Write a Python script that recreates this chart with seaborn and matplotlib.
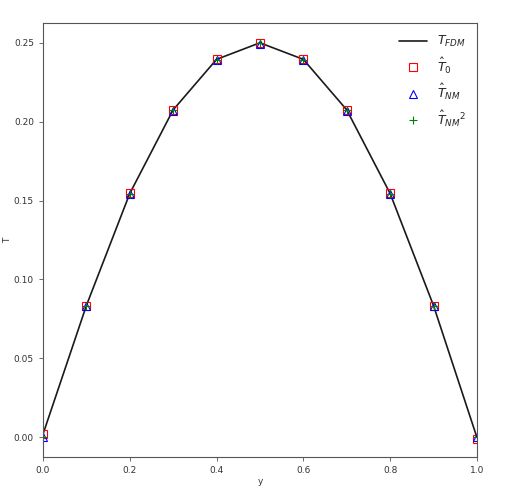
import numpy as np
import pandas as pd
import matplotlib
matplotlib.use("Agg")
import matplotlib.pyplot as plt
import seaborn as sns

y_grid = [0.0, 0.1, 0.2, 0.3, 0.4, 0.5, 0.6, 0.7, 0.8, 0.9, 1.0]
t_fdm = [0.002, 0.0835, 0.1545, 0.2075, 0.2395, 0.2500, 0.2395, 0.2075, 0.1545, 0.0835, 0.0]
t_0 = [0.002, 0.0835, 0.1545, 0.2075, 0.2395, 0.2500, 0.2395, 0.2075, 0.1545, 0.0835, -0.001]
t_nm = [0.0005, 0.0830, 0.1540, 0.2070, 0.2390, 0.2495, 0.2390, 0.2070, 0.1540, 0.0830, 0.0]
t_nm2 = [0.0005, 0.0832, 0.1542, 0.2072, 0.2392, 0.2497, 0.2392, 0.2072, 0.1542, 0.0832, 0.0]

df = pd.DataFrame({'y': y_grid, 'fdm': t_fdm, 't0': t_0, 'nm': t_nm, 'nm2': t_nm2})

sns.set_style("ticks")
plt.rcParams['font.family'] = ['DejaVu Sans']

fig = plt.figure(figsize=(5.15, 4.91), dpi=100)
ax = fig.add_axes([0.0835, 0.0692, 0.8425, 0.8838])

sns.lineplot(data=df, x='y', y='fdm', color='#1a1a1a', linewidth=1.2, ax=ax, label=r'$T_{FDM}$')
ax.plot(df['y'], df['t0'], 's', ms=6, mfc='none', mec='red', mew=0.8, ls='none', label=r'$\hat{T}_0$')
ax.plot(df['y'], df['nm'], '^', ms=6, mfc='none', mec='blue', mew=0.8, ls='none', label=r'$\hat{T}_{NM}$')
ax.plot(df['y'], df['nm2'], '+', ms=6, color='green', mew=0.8, ls='none', label=r'$\hat{T}_{NM}{}^2$')

ax.set_xlim(0, 1)
ax.set_ylim(-0.0125, 0.2625)
ax.set_xticks([0.0, 0.2, 0.4, 0.6, 0.8, 1.0])
ax.set_yticks([0.0, 0.05, 0.10, 0.15, 0.20, 0.25])
ax.tick_params(labelsize=6.5, length=3, width=0.6, color='#555555', labelcolor='#333333')
for s in ax.spines.values():
    s.set_linewidth(0.8)
    s.set_color('#555555')
ax.set_xlabel('y', fontsize=6.5, color='#333333')
ax.set_ylabel('T', fontsize=6.5, color='#333333')
ax.yaxis.set_label_coords(-0.072, 0.5)
ax.xaxis.set_label_coords(0.5, -0.045)
ax.legend(loc='upper right', frameon=False, fontsize=9, handlelength=2.2)

fig.savefig('out.png', dpi=100)
